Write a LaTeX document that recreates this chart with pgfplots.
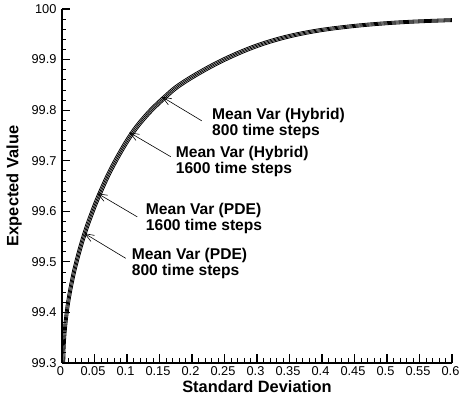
\documentclass[border=0pt]{standalone}
\usepackage{fontspec}
\setmainfont{Liberation Sans}
\usepackage{pgfplots}
\pgfplotsset{compat=1.18}
\usepackage{pgfplotstable}
\usetikzlibrary{arrows.meta}

% Mean-variance frontiers: standard deviation vs. expected value
\pgfplotstableread{
sd      ev
0.0000  99.3000
0.0005  99.3320
0.0010  99.3450
0.0020  99.3640
0.0040  99.3900
0.0060  99.4110
0.0080  99.4280
0.0110  99.4500
0.0135  99.4660
0.0165  99.4840
0.0220  99.5120
0.0270  99.5350
0.0320  99.5560
0.0400  99.5860
0.0540  99.6320
0.0750  99.6900
0.1030  99.7520
0.1280  99.7930
0.1540  99.8260
0.1815  99.8550
0.2320  99.8930
0.2850  99.9240
0.3350  99.9450
0.3860  99.9590
0.4380  99.9680
0.4890  99.9740
0.5400  99.9780
0.6000  99.9810
}\hybridA
\pgfplotstableread{
sd      ev
0.0014  99.2981
0.0019  99.3301
0.0024  99.3431
0.0034  99.3621
0.0054  99.3881
0.0074  99.4091
0.0094  99.4261
0.0124  99.4481
0.0149  99.4641
0.0179  99.4821
0.0234  99.5101
0.0284  99.5331
0.0334  99.5541
0.0414  99.5841
0.0554  99.6301
0.0764  99.6881
0.1044  99.7501
0.1294  99.7911
0.1554  99.8241
0.1829  99.8531
0.2334  99.8911
0.2864  99.9221
0.3364  99.9431
0.3874  99.9571
0.4394  99.9661
0.4904  99.9721
0.5414  99.9761
0.6014  99.9791
}\hybridB
\pgfplotstableread{
sd      ev
0.0028  99.2962
0.0033  99.3282
0.0038  99.3412
0.0048  99.3602
0.0068  99.3862
0.0088  99.4072
0.0108  99.4242
0.0138  99.4462
0.0163  99.4622
0.0193  99.4802
0.0248  99.5082
0.0298  99.5312
0.0348  99.5522
0.0428  99.5822
0.0568  99.6282
0.0778  99.6862
0.1058  99.7482
0.1308  99.7892
0.1568  99.8222
0.1843  99.8512
0.2348  99.8892
0.2878  99.9202
0.3378  99.9412
0.3888  99.9552
0.4408  99.9642
0.4918  99.9702
0.5428  99.9742
0.6028  99.9772
}\pdeA
\pgfplotstableread{
sd      ev
0.0042  99.2943
0.0047  99.3263
0.0052  99.3393
0.0062  99.3583
0.0082  99.3843
0.0102  99.4053
0.0122  99.4223
0.0152  99.4443
0.0177  99.4603
0.0207  99.4783
0.0262  99.5063
0.0312  99.5293
0.0362  99.5503
0.0442  99.5803
0.0582  99.6263
0.0792  99.6843
0.1072  99.7463
0.1322  99.7873
0.1582  99.8203
0.1857  99.8493
0.2362  99.8873
0.2892  99.9183
0.3392  99.9393
0.3902  99.9533
0.4422  99.9623
0.4932  99.9683
0.5442  99.9723
0.6042  99.9753
}\pdeB

\begin{document}
\begin{tikzpicture}
\begin{axis}[
  scale only axis,
  width=390pt, height=354pt,
  xmin=0, xmax=0.6, ymin=99.3, ymax=100,
  axis x line=bottom, axis y line=left,
  axis line style={-, line width=1.8pt},
  tick align=inside,
  xtick={0,0.05,0.1,0.15,0.2,0.25,0.3,0.35,0.4,0.45,0.5,0.55,0.6},
  xticklabels={0,0.05,0.1,0.15,0.2,0.25,0.3,0.35,0.4,0.45,0.5,0.55,0.6},
  ytick={99.3,99.4,99.5,99.6,99.7,99.8,99.9,100},
  yticklabels={99.3,99.4,99.5,99.6,99.7,99.8,99.9,100},
  minor x tick num=4, minor y tick num=4,
  major tick length=8.5pt, minor tick length=4.5pt,
  major tick style={black, line width=1.2pt},
  minor tick style={black, line width=0.8pt},
  /pgf/number format/assume math mode=true,
  ticklabel style={font=\fontsize{12.8}{13}\selectfont},
  xticklabel style={xshift=-1.5pt},
  yticklabel style={xshift=-2pt},
  xlabel={Standard Deviation},
  ylabel={Expected Value},
  label style={font=\bfseries\fontsize{16.4}{17}\selectfont},
  xlabel style={at={(axis description cs:0.5,-0.0678)}, anchor=center},
  ylabel style={at={(axis description cs:-0.123,0.5)}, anchor=center},
]
\addplot[black, line width=0.8pt, smooth, tension=0.6, no marks] table[x=sd, y=ev] {\hybridA};
\addplot[black, line width=0.8pt, smooth, tension=0.6, no marks] table[x=sd, y=ev] {\hybridB};
\addplot[black, line width=0.8pt, smooth, tension=0.6, no marks] table[x=sd, y=ev] {\pdeA};
\addplot[black, line width=0.8pt, smooth, tension=0.6, no marks] table[x=sd, y=ev] {\pdeB};

\tikzset{
  lbl/.style={anchor=west, align=left, inner sep=0pt,
    font=\bfseries\fontsize{15.6}{16}\selectfont},
  ptr/.style={-{Straight Barb[length=9pt,width=7pt]}, line width=0.6pt}
}
\draw[ptr] (axis cs:0.2149,99.779) -- (axis cs:0.1534,99.8266);
\node[lbl] at (axis cs:0.2308,99.7735) {Mean Var (Hybrid)\\800 time steps};
\draw[ptr] (axis cs:0.1672,99.708) -- (axis cs:0.1035,99.756);
\node[lbl] at (axis cs:0.1749,99.699) {Mean Var (Hybrid)\\1600 time steps};
\draw[ptr] (axis cs:0.1158,99.589) -- (axis cs:0.0543,99.6356);
\node[lbl] at (axis cs:0.1288,99.5863) {Mean Var (PDE)\\1600 time steps};
\draw[ptr] (axis cs:0.0980,99.507) -- (axis cs:0.0343,99.5565);
\node[lbl] at (axis cs:0.1072,99.4973) {Mean Var (PDE)\\800 time steps};
\end{axis}
\pgfresetboundingbox
\path (-62pt,-39pt) rectangle (397pt,363pt);
\end{tikzpicture}
\end{document}
